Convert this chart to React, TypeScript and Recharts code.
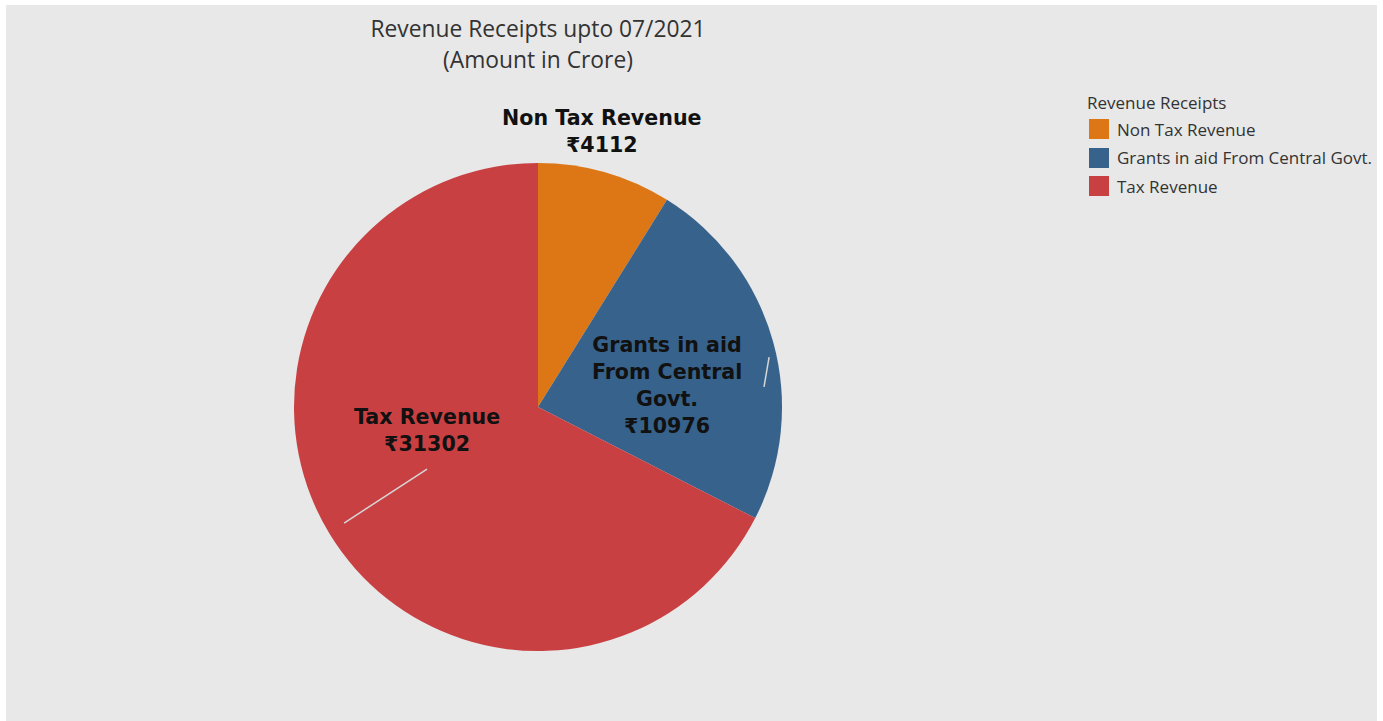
import { PieChart, Pie, Cell, Legend } from 'recharts';

const categories = ['Non Tax Revenue', 'Grants in aid From Central Govt.', 'Tax Revenue'];
const amounts = [4112, 10976, 31302];
const colors = ['#dd7716', '#37628c', '#c94043'];
const labelLines = [['Non Tax Revenue'], ['Grants in aid', 'From Central', 'Govt.'], ['Tax Revenue']];

const data = categories.map((name, i) => ({ name, value: amounts[i] }));

const R = 244;
const LINE_H = 27;

// label placement relative to pie centre (fraction of radius, degrees clockwise from 12 o'clock)
const labelPos = [
  { f: 1.163, a: 13 },
  { f: 0.537, a: 80.1 },
  { f: 0.464, a: 258.5 },
];
// faint leader lines drawn by the original
const leaders = [
  null,
  { f1: 0.969, a1: 77.8, f2: 0.93, a2: 84.9 },
  { f1: 0.521, a1: 240.8, f2: 0.926, a2: 239.1 },
];

const polar = (cx: number, cy: number, f: number, a: number) => {
  const rad = (a * Math.PI) / 180;
  return { x: cx + f * R * Math.sin(rad), y: cy - f * R * Math.cos(rad) };
};

const renderLabel = (props: any) => {
  const { cx, cy, index, value } = props;
  const p = polar(cx, cy, labelPos[index].f, labelPos[index].a);
  const lines = [...labelLines[index], `₹${value}`];
  const top = p.y - ((lines.length - 1) * LINE_H) / 2 + 8;
  const ld = leaders[index];
  let leader = null;
  if (ld) {
    const a = polar(cx, cy, ld.f1, ld.a1);
    const b = polar(cx, cy, ld.f2, ld.a2);
    leader = <line x1={a.x} y1={a.y} x2={b.x} y2={b.y} stroke="#d6d6d6" strokeWidth={1.5} />;
  }
  return (
    <g key={`lbl-${index}`}>
      {leader}
      <text
        x={p.x}
        y={top}
        textAnchor="middle"
        fill="#111"
        fontFamily="DejaVu Sans"
        fontWeight="bold"
        fontSize={20.6}
      >
        {lines.map((t, i) => (
          <tspan key={i} x={p.x} y={top + i * LINE_H}>
            {t}
          </tspan>
        ))}
      </text>
    </g>
  );
};

const LegendBox = () => (
  <div style={{ fontFamily: 'Open Sans', color: '#333', fontSize: 17 }}>
    <div style={{ height: 24, lineHeight: '24px', marginLeft: -2 }}>Revenue Receipts</div>
    {categories.map((c, i) => (
      <div key={c} style={{ display: 'flex', alignItems: 'center', height: 28.5 }}>
        <div style={{ width: 20, height: 20, background: colors[i], marginRight: 8 }} />
        <span>{c}</span>
      </div>
    ))}
  </div>
);

export default function App() {
  return (
    <div style={{ position: 'fixed', left: 0, top: 0, width: 1383, height: 721, background: '#fff' }}>
      <div style={{ position: 'absolute', left: 6, top: 5, width: 1371, height: 716, background: '#e8e8e8' }}>
        <div
          style={{
            position: 'absolute',
            left: 0,
            top: 8,
            width: 1064,
            textAlign: 'center',
            fontFamily: 'Open Sans',
            fontSize: 22.8,
            lineHeight: '31px',
            color: '#333',
          }}
        >
          <div>Revenue Receipts upto 07/2021</div>
          <div>(Amount in Crore)</div>
        </div>
        <PieChart width={1371} height={716} margin={{ top: 0, right: 0, bottom: 0, left: 0 }}>
          <Pie
            data={data}
            dataKey="value"
            nameKey="name"
            cx={532}
            cy={402}
            outerRadius={R}
            startAngle={90}
            endAngle={-270}
            stroke="none"
            label={renderLabel}
            labelLine={false}
            isAnimationActive={false}
          >
            {data.map((d, i) => (
              <Cell key={d.name} fill={colors[i]} />
            ))}
          </Pie>
          <Legend
            layout="vertical"
            align="right"
            verticalAlign="top"
            content={() => <LegendBox />}
            wrapperStyle={{ position: 'absolute', left: 1083, top: 86, width: 290 }}
          />
        </PieChart>
      </div>
    </div>
  );
}
